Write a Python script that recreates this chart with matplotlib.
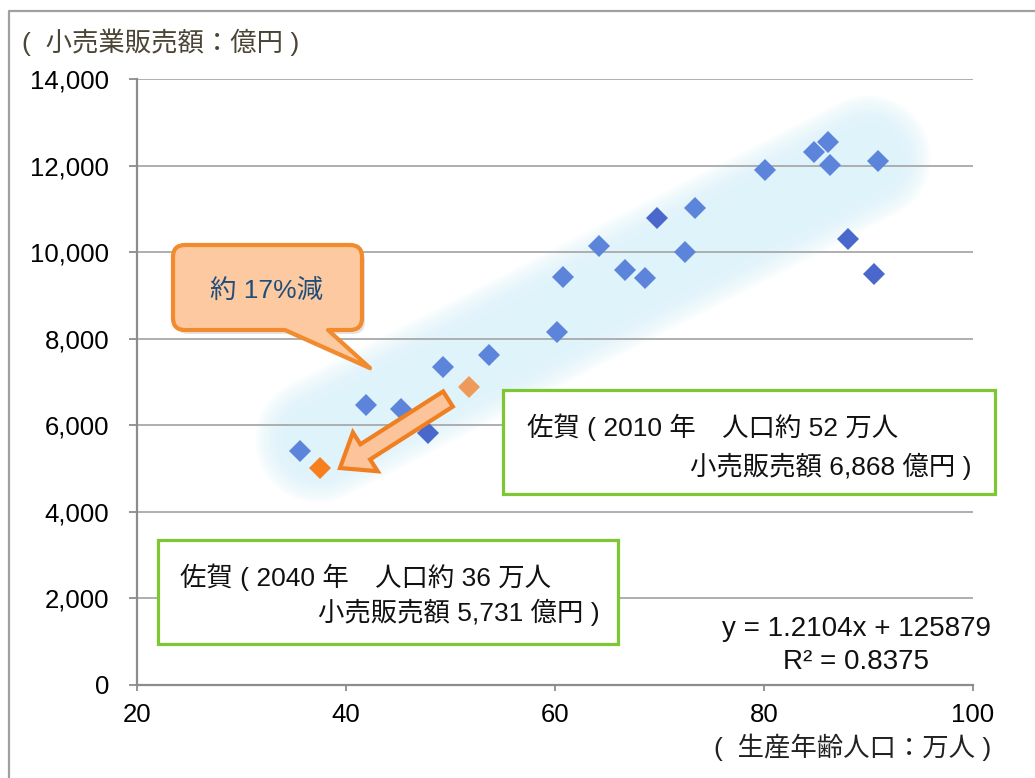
import matplotlib
matplotlib.use('Agg')
import matplotlib.pyplot as plt
from matplotlib.patches import PathPatch, FancyArrow, Rectangle
from matplotlib.path import Path
from matplotlib.lines import Line2D
from matplotlib.transforms import Affine2D
from matplotlib.ticker import FuncFormatter

W, H = 1035, 778
plt.rcParams['font.family'] = ['Liberation Sans', 'Noto Sans CJK JP', 'DejaVu Sans']

# --- data (population of working age: 10k persons, retail sales: 100M yen) ---
pop = [35.6, 41.9, 45.3, 49.3, 53.7, 60.2, 60.8, 64.2, 66.7, 68.6, 72.4, 73.4, 80.1, 84.8, 86.1, 86.3, 90.9]
sales = [5400, 6470, 6380, 7340, 7620, 8150, 9420, 10140, 9590, 9400, 10000, 11020, 11900, 12310, 12540, 12010, 12100]
pop_dark = [47.8, 69.8, 88.0, 90.5]
sales_dark = [5820, 10790, 10300, 9490]
saga2010_x = [51.8]
saga2010_y = [6880]
saga2040_x = [37.5]
saga2040_y = [5020]
xticks = [20, 40, 60, 80, 100]
yticks = [0, 2000, 4000, 6000, 8000, 10000, 12000, 14000]

fig = plt.figure(figsize=(W / 100, H / 100), dpi=100)
fig.patch.set_facecolor('white')
ax = fig.add_axes([137 / W, 1 - 685 / H, (973 - 137) / W, (685 - 79) / H])
P = Affine2D().scale(1 / W, -1 / H).translate(0, 1) + fig.transFigure

ax.set_xlim(20, 100)
ax.set_ylim(0, 14000)
ax.set_xticks(xticks)
ax.set_yticks(yticks)
ax.yaxis.set_major_formatter(FuncFormatter(lambda v, p: f'{int(v):,}'))
ax.yaxis.grid(True, color='#a8a8a8', lw=1.3)
ax.set_axisbelow(True)
for s in ['top', 'right']:
    ax.spines[s].set_visible(False)
for s in ['left', 'bottom']:
    ax.spines[s].set_color('#8c8c8c')
    ax.spines[s].set_linewidth(1.6)
ax.tick_params(axis='y', length=6, width=1.3, color='#8c8c8c', pad=14, labelsize=18.5)
ax.tick_params(axis='x', length=4, width=1.3, color='#8c8c8c', pad=9, labelsize=18.5)

# outer frame
fig.add_artist(Line2D([9, 9, W], [H, 11, 11], transform=P, color='#a0a0a0', lw=1.6))

# blurred band (capsule)
n = 14
for i in range(n):
    f = i / (n - 1)
    lw_px = 125 - 60 * f
    ax.add_line(Line2D([318, 868], [440, 158], transform=P, lw=lw_px * 0.72, color='#dcf3fb',
                       alpha=0.12, solid_capstyle='round', zorder=0.3))

# points
ax.plot(pop, sales, 'D', color='#5b84da', ms=11.5, mew=0, zorder=3)
ax.plot(pop_dark, sales_dark, 'D', color='#4a68cc', ms=11.5, mew=0, zorder=3)
ax.plot(saga2010_x, saga2010_y, 'D', color='#ee9a58', ms=11.5, mew=0, zorder=3)
ax.plot(saga2040_x, saga2040_y, 'D', color='#f77f1e', ms=11.5, mew=0, zorder=3)

# callout
x0, y0, x1, y1, r = 173, 245, 362, 330, 12
verts = [(x0 + r, y0), (x1 - r, y0), (x1, y0), (x1, y0 + r), (x1, y1 - r), (x1, y1), (x1 - r, y1),
         (328, y1), (370, 368), (285, y1), (x0 + r, y1), (x0, y1), (x0, y1 - r), (x0, y0 + r),
         (x0, y0), (x0 + r, y0), (x0 + r, y0)]
codes = [Path.MOVETO, Path.LINETO, Path.CURVE3, Path.CURVE3, Path.LINETO, Path.CURVE3, Path.CURVE3,
         Path.LINETO, Path.LINETO, Path.LINETO, Path.LINETO, Path.CURVE3, Path.CURVE3, Path.LINETO,
         Path.CURVE3, Path.CURVE3, Path.CLOSEPOLY]
path = Path(verts, codes)
shadow = PathPatch(path, transform=Affine2D().translate(3, 4) + P, facecolor='#808080',
                   edgecolor='none', alpha=0.22, zorder=4.9, clip_on=False)
ax.add_patch(shadow)
ax.add_patch(PathPatch(path, transform=P, facecolor='#fcc9a0', edgecolor='#f28a2e', lw=3,
                       zorder=5, clip_on=False, joinstyle='round'))
ax.text(267, 291, '約 17%減', transform=P, ha='center', va='center', fontsize=19,
        color='#1f4e79', zorder=6)

# arrow
ax.add_patch(FancyArrow(448, 399, 340 - 448, 468 - 399, width=18, head_width=46, head_length=30,
                        length_includes_head=True, transform=P, facecolor='#fbc49a',
                        edgecolor='#f07f22', lw=3, zorder=6, clip_on=False))

# green boxes
ax.add_patch(Rectangle((503, 390), 492, 104, transform=P, facecolor='white', edgecolor='#7dc832',
                       lw=2.3, zorder=4, clip_on=False))
ax.text(527, 427, '佐賀 ( 2010 年　人口約 52 万人', transform=P, ha='left', va='center',
        fontsize=19, color='#111111', zorder=4.5)
ax.text(972, 466, '小売販売額 6,868 億円 )', transform=P, ha='right', va='center',
        fontsize=19, color='#111111', zorder=4.5)
ax.add_patch(Rectangle((158, 540), 460, 104, transform=P, facecolor='white', edgecolor='#7dc832',
                       lw=2.3, zorder=4, clip_on=False))
ax.text(180, 577, '佐賀 ( 2040 年　人口約 36 万人', transform=P, ha='left', va='center',
        fontsize=19, color='#111111', zorder=4.5)
ax.text(600, 612, '小売販売額 5,731 億円 )', transform=P, ha='right', va='center',
        fontsize=19, color='#111111', zorder=4.5)

# equation
ax.text(857, 629, 'y = 1.2104x + 125879', transform=P, ha='center', va='center', fontsize=20,
        color='#111111', zorder=4.5)
ax.text(856, 662, 'R² = 0.8375', transform=P, ha='center', va='center', fontsize=20,
        color='#111111', zorder=4.5)

# axis titles
fig.text(22, 42, '(  小売業販売額：億円 )', transform=P, ha='left', va='center', fontsize=19,
         color='#4a4535')
fig.text(853, 747, '(  生産年齢人口：万人 )', transform=P, ha='center', va='center', fontsize=19,
         color='#222222')

fig.savefig('out.png', dpi=100, facecolor='white')
